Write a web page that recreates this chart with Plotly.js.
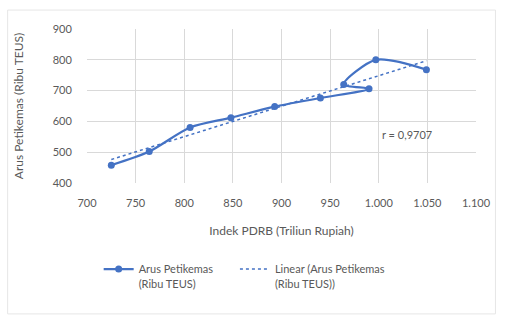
<!DOCTYPE html>
<html><head><meta charset="utf-8">
<script src="https://cdn.plot.ly/plotly-3.0.1.min.js"></script>
<style>html,body{margin:0;padding:0;background:#fff}#chart{width:506px;height:315px}</style>
</head><body><div id="chart"></div>
<script>
const pdrb = [725, 764, 806, 848, 893, 940, 990, 964, 997, 1049];
const arus = [458, 502, 580, 612, 648, 676, 706, 720, 800, 768];
const seriesName = 'Arus Petikemas<br>(Ribu TEUS)';
const trendName = 'Linear (Arus Petikemas<br>(Ribu TEUS))';
const rLabel = 'r = 0,9707';

// least-squares fit for the linear trendline
const n = pdrb.length;
const mx = pdrb.reduce((a,b)=>a+b,0)/n, my = arus.reduce((a,b)=>a+b,0)/n;
let sxy=0, sxx=0;
for (let i=0;i<n;i++){sxy+=(pdrb[i]-mx)*(arus[i]-my);sxx+=(pdrb[i]-mx)**2;}
const slope = sxy/sxx, icpt = my-slope*mx;
const tx = [Math.min(...pdrb), Math.max(...pdrb)];
const ty = tx.map(v=>icpt+slope*v);

const blue = '#4472C4', gray = '#595959';
const font = 'Lato, "Open Sans", sans-serif';
const pad = '&nbsp;'.repeat(6);
const data = [
  {x: pdrb, y: arus, type:'scatter', mode:'lines+markers', name: seriesName.replace('<br>', pad + '<br>'),
   line:{color: blue, width:2.25, shape:'spline', smoothing:0.8},
   marker:{color: blue, size:7, symbol:'circle'}},
  {x: tx, y: ty, type:'scatter', mode:'lines', name: trendName,
   line:{color: blue, width:1.5, dash:'dot'}}
];
const layout = {
  width:506, height:315,
  margin:{l:87, r:30, t:29, b:132},
  paper_bgcolor:'#fff', plot_bgcolor:'#fff',
  separators: ',.',
  font:{family: font, color: gray, size: 11},
  showlegend: true,
  xaxis:{range:[700,1100], dtick:50, tick0:700, separatethousands:true,
    showgrid:true, gridcolor:'#D9D9D9', gridwidth:1, zeroline:false,
    showline:false, ticks:'outside', ticklen:10, tickcolor:'rgba(0,0,0,0)',
    tickfont:{size:11, color:gray},
    title:{text:'Indek PDRB (Triliun Rupiah)', font:{size:12, color:gray}, standoff:18}},
  yaxis:{range:[400,900], dtick:100, tick0:400,
    showgrid:true, gridcolor:'#D9D9D9', gridwidth:1, zeroline:false,
    showline:false, ticks:'outside', ticklen:12, tickcolor:'rgba(0,0,0,0)',
    tickfont:{size:11, color:gray},
    title:{text:'Arus Petikemas (Ribu TEUS)', font:{size:12, color:gray}, standoff:26}},
  legend:{orientation:'h', x:0.03, y:-0.47, xanchor:'left', yanchor:'top',
    valign:'top', font:{size:11, color:gray}, bgcolor:'rgba(0,0,0,0)', traceorder:'normal'},
  annotations:[{x:1029, y:559, xref:'x', yref:'y', text:rLabel, showarrow:false,
    font:{size:11, color:gray}}],
  shapes:[{type:'rect', xref:'paper', yref:'paper', x0:-0.204, x1:1.05, y0:-0.85, y1:1.123,
    line:{color:'#E6E6E6', width:1}, layer:'below'}]
};
Plotly.newPlot('chart', data, layout, {displayModeBar:false, staticPlot:true});
</script></body></html>
